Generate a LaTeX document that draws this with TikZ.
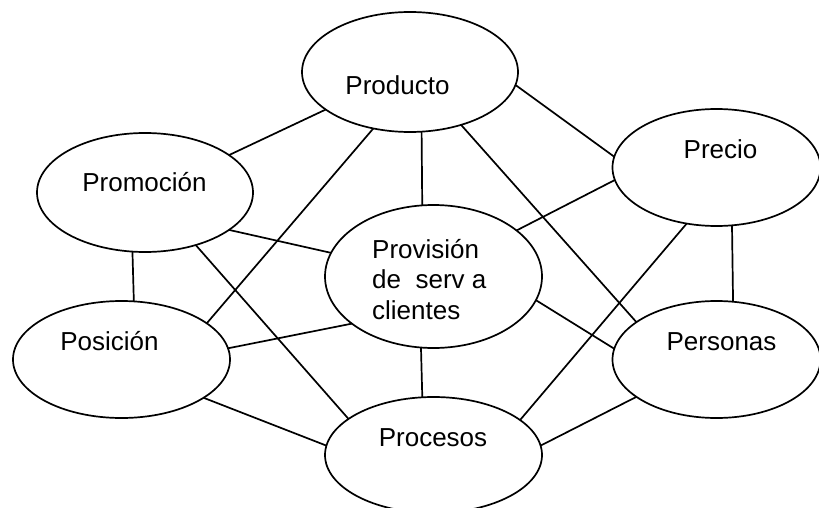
\documentclass[tikz,border=0pt]{standalone}
\usepackage{fontspec}
\setmainfont{Liberation Sans}
\usetikzlibrary{shapes.geometric}
\begin{document}
\begin{tikzpicture}[x=1pt,y=-1pt,
  oval/.style={ellipse, draw, line width=1.7pt, inner sep=0pt, outer sep=0pt},
  lbl/.style={inner sep=0pt, font=\fontsize{26}{30.5}\selectfont},
  link/.style={line width=1.7pt}]
\clip (0,0) rectangle (819,508);
\useasboundingbox (0,0) rectangle (819,508);
% ellipses
\node[oval, minimum width=216pt, minimum height=120pt] (prod) at (410,72) {};
\node[oval, minimum width=216pt, minimum height=119pt] (prom) at (145,192.5) {};
\node[oval, minimum width=208pt, minimum height=117pt] (prec) at (716.5,167.5) {};
\node[oval, minimum width=217pt, minimum height=143pt] (prov) at (433.5,276.5) {};
\node[oval, minimum width=217pt, minimum height=117pt] (pos) at (121.5,359.5) {};
\node[oval, minimum width=208pt, minimum height=117pt] (pers) at (716.5,359.5) {};
\node[oval, minimum width=217pt, minimum height=116pt] (proc) at (433.5,455) {};
% labels
\node[lbl, anchor=base] (tprod) at (397.5,95) {Producto};
\node[lbl, anchor=base] (tprom) at (144.5,191) {Promoción};
\node[lbl, anchor=base] (tprec) at (720.5,158.3) {Precio};
\node[lbl, anchor=base] (tpos) at (109.5,350.7) {Posición};
\node[lbl, anchor=base] (tpers) at (721.5,350.7) {Personas};
\node[lbl, anchor=base] (tproc) at (433,446.7) {Procesos};
\node[lbl, anchor=base west, align=left] (tprov) at (372,319) {Provisión\\de\ \ serv a\\clientes};
% connectors
\draw[link] (prod.204) -- (prom.24);
\draw[link] (prod.237) -- (pos.23);
\draw[link] (prod.281.4) -- (prov.99.2);
\draw[link] (prod.314.5) -- (pers.155.9);
\draw[link] (prod.353) -- (prec.174.2);
\draw[link] (prom.336.8) -- (prov.167);
\draw[link] (prom.314.8) -- (proc.157.5);
\draw[link] (prom.258.5) -- (pos.78.8);
\draw[link] (pos.6) -- (prov.210.1);
\draw[link] (pos.335.8) -- (proc.175.2);
\draw[link] (prov.260.8) -- (proc.101.3);
\draw[link] (prov.29.6) -- (prec.187);
\draw[link] (prov.347.3) -- (pers.174.2);
\draw[link] (prec.242.5) -- (proc.22.5);
\draw[link] (prec.285.9) -- (pers.74.1);
\draw[link] (pers.205.3) -- (proc.5.4);
\end{tikzpicture}
\end{document}
